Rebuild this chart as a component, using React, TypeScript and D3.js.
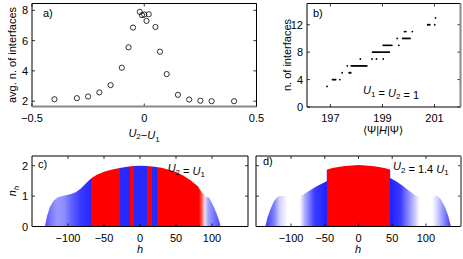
import * as d3 from "d3";

// a) average number of interfaces vs U2-U1
const aDiff = [-0.4, -0.3, -0.25, -0.2, -0.15, -0.1, -0.07, -0.05, -0.02, -0.01, 0.0, 0.01, 0.02, 0.05, 0.07, 0.1, 0.15, 0.2, 0.25, 0.3, 0.4];
const aCount = [2.13, 2.2, 2.31, 2.58, 3.06, 4.21, 5.56, 6.86, 7.9, 7.68, 7.72, 7.3, 7.74, 6.9, 5.27, 3.79, 2.42, 2.11, 2.03, 2.0, 2.0];

// b) number of interfaces vs energy, one row per count
const bLevels = [3, 4, 5, 6, 7, 8, 9, 10, 11, 12, 13];
const bEnergies = [
  [196.87],
  [197.08, 197.11, 197.14, 197.17, 197.2, 197.36],
  [197.45, 197.72, 197.75, 197.78],
  [197.65, 197.8, 197.83, 197.86, 197.89, 197.92, 197.95, 197.98, 198.01, 198.04, 198.07, 198.1, 198.13, 198.16, 198.19, 198.22, 198.25, 198.28, 198.31, 198.34, 198.37, 198.4],
  [198.15, 198.6, 198.77, 199.03],
  [198.62, 198.66, 198.7, 198.74, 198.78, 198.82, 198.86, 198.9, 198.94, 198.98, 199.02, 199.06, 199.1, 199.14, 199.18, 199.22, 199.26],
  [199.03, 199.07, 199.11, 199.15, 199.19, 199.23, 199.27, 199.31, 199.36, 199.63],
  [199.57, 199.78, 199.82, 199.86, 199.9, 199.94, 199.98, 200.02, 200.06],
  [199.85, 199.9, 200.15],
  [200.74, 200.78, 200.82, 201.01],
  [201.04],
];

// c) density profile, U2 = U1
const cH = [-132, -129, -125, -120, -114, -105, -97, -90, -82, -75, -68, -60, -50, -40, -30, -20, -10, 0, 10, 20, 30, 40, 50, 60, 70, 80, 86, 90, 91, 96, 101, 106, 110, 112];
const cN = [0, 0.35, 0.65, 0.85, 0.96, 1.02, 1.06, 1.12, 1.25, 1.42, 1.58, 1.7, 1.8, 1.87, 1.92, 1.96, 1.99, 2.0, 1.99, 1.97, 1.93, 1.87, 1.79, 1.68, 1.52, 1.33, 1.12, 1.03, 0.99, 0.95, 0.72, 0.45, 0.18, 0];
const cStopH = [-132, -124, -115, -105, -95, -82, -68, -68, -27.5, -27.5, -14.5, -14.5, -8, -8, 9.6, 9.6, 16, 16, 24, 24, 82, 86, 89.5, 90, 95, 105, 112];
const cStopColor = ["#4a4aff", "#7a7aff", "#9898ff", "#8c8cff", "#6060ff", "#3838ff", "#2828ff", "#ff0000", "#ff0000", "#2828ff", "#2828ff", "#ff0000", "#ff0000", "#2828ff", "#2828ff", "#ff0000", "#ff0000", "#2828ff", "#2828ff", "#ff0000", "#ff0000", "#ff6060", "#ffd0d0", "#e0e0ff", "#a0a0ff", "#6a6aff", "#4a4aff"];

// d) density profile, U2 = 1.4 U1
const dH = [-138, -135, -130, -125, -120, -117, -90, -84, -80, -70, -60, -50, -47, -47, -40, -30, -20, 0, 20, 30, 40, 47, 47, 55, 65, 75, 84, 88, 117, 122, 128, 133, 137];
const dN = [0, 0.3, 0.6, 0.85, 0.97, 1.0, 1.0, 1.02, 1.08, 1.22, 1.35, 1.46, 1.5, 1.87, 1.92, 1.96, 1.99, 2.02, 1.99, 1.96, 1.92, 1.87, 1.6, 1.5, 1.35, 1.18, 1.03, 1.0, 1.0, 0.9, 0.65, 0.35, 0];
const dStopH = [-138, -125, -117, -105, -87, -80, -65, -47, -47, 47, 47, 62, 80, 91, 109, 117, 128, 137];
const dStopColor = ["#3a3aff", "#8080ff", "#d0d0ff", "#ffffff", "#ffffff", "#b0b0ff", "#3a3aff", "#2020ff", "#ff0000", "#ff0000", "#2020ff", "#3a3aff", "#b0b0ff", "#ffffff", "#ffffff", "#d0d0ff", "#8080ff", "#3a3aff"];

const FONT = "'Liberation Sans', Arial, Helvetica, sans-serif";
const fmt = d3.format("");

type Lin = d3.ScaleLinear<number, number>;

function Frame({ x, y, xTicks, yTicks, yLabels = true, grayBottom = false, grayRight = false }: { x: Lin; y: Lin; xTicks: number[]; yTicks: number[]; yLabels?: boolean; grayBottom?: boolean; grayRight?: boolean }) {
  const [x0, x1] = x.range();
  const [yb, yt] = y.range();
  const tl = 3;
  return (
    <g>
      {xTicks.map((t) => (
        <g key={"x" + t}>
          <line x1={x(t)} x2={x(t)} y1={yb} y2={yb - tl} stroke="#000" strokeWidth={0.8} />
          <line x1={x(t)} x2={x(t)} y1={yt} y2={yt + tl} stroke="#000" strokeWidth={0.8} />
          <text x={x(t)} y={yb + 15} fontSize={11} textAnchor="middle">{fmt(t)}</text>
        </g>
      ))}
      {yTicks.map((t) => (
        <g key={"y" + t}>
          <line x1={x0} x2={x0 + tl} y1={y(t)} y2={y(t)} stroke="#000" strokeWidth={0.8} />
          <line x1={x1} x2={x1 - tl} y1={y(t)} y2={y(t)} stroke="#000" strokeWidth={0.8} />
          {yLabels && <text x={x0 - 4} y={y(t) + 4} fontSize={11} textAnchor="end">{fmt(t)}</text>}
        </g>
      ))}
      <line x1={x0} x2={x1} y1={yt} y2={yt} stroke="#000" strokeWidth={1} />
      <line x1={x0} x2={x0} y1={yt} y2={yb} stroke="#000" strokeWidth={1} />
      <line x1={x0} x2={x1} y1={yb} y2={yb} stroke={grayBottom ? "#888" : "#000"} strokeWidth={grayBottom ? 2 : 1} />
      <line x1={x1} x2={x1} y1={yt} y2={yb} stroke={grayRight ? "#888" : "#000"} strokeWidth={grayRight ? 2 : 1} />
    </g>
  );
}

function Sub({ base, sub }: { base: string; sub: string }) {
  return (
    <>
      <tspan fontStyle="italic">{base}</tspan>
      <tspan fontSize={8} dy={2.5}>{sub}</tspan>
      <tspan dy={-2.5}></tspan>
    </>
  );
}

function Profile({ id, x, y, hs, ns, stopH, stopColor }: { id: string; x: Lin; y: Lin; hs: number[]; ns: number[]; stopH: number[]; stopColor: string[] }) {
  const [x0, x1] = x.range();
  const area = d3.area<number>().x((h) => x(h)).y0(y(0)).y1((_, i) => y(ns[i]));
  return (
    <g>
      <defs>
        <linearGradient id={id} gradientUnits="userSpaceOnUse" x1={x0} x2={x1} y1={0} y2={0}>
          {stopH.map((h, i) => (
            <stop key={i} offset={(x(h) - x0) / (x1 - x0)} stopColor={stopColor[i]} />
          ))}
        </linearGradient>
      </defs>
      <path d={area(hs) ?? ""} fill={`url(#${id})`} />
    </g>
  );
}

function PanelA() {
  const x = d3.scaleLinear().domain([-0.5, 0.5]).range([32, 256.5]);
  const y = d3.scaleLinear().domain([1.65, 8.45]).range([106.5, 3.5]);
  return (
    <g>
      {aDiff.map((d, i) => (
        <circle key={i} cx={x(d)} cy={y(aCount[i])} r={2.6} fill="none" stroke="#000" strokeWidth={0.8} />
      ))}
      <Frame x={x} y={y} xTicks={[-0.5, 0, 0.5]} yTicks={[2, 4, 6, 8]} grayBottom />
      <text x={43} y={17} fontSize={11}>a)</text>
      <text transform="translate(16,55) rotate(-90)" fontSize={11} textAnchor="middle">avg. n. of interfaces</text>
      <text x={144} y={136.5} fontSize={11} textAnchor="middle">
        <Sub base="U" sub="2" />
        <tspan>−</tspan>
        <Sub base="U" sub="1" />
      </text>
    </g>
  );
}

function PanelB() {
  const x = d3.scaleLinear().domain([196.1, 202.0]).range([307, 460.5]);
  const y = d3.scaleLinear().domain([0, 15.1]).range([107, 3.5]);
  return (
    <g>
      {bLevels.map((lv, i) =>
        bEnergies[i].map((e, j) => <circle key={i + "-" + j} cx={x(e)} cy={y(lv)} r={0.9} fill="#000" />)
      )}
      <Frame x={x} y={y} xTicks={[197, 199, 201]} yTicks={[0, 4, 8, 12]} grayRight />
      <text x={313} y={17} fontSize={11}>b)</text>
      <text transform="translate(291,55) rotate(-90)" fontSize={11} textAnchor="middle">n. of interfaces</text>
      <text x={363} y={94} fontSize={11}>
        <Sub base="U" sub="1" />
        <tspan> = </tspan>
        <Sub base="U" sub="2" />
        <tspan> = 1</tspan>
      </text>
      <text x={383} y={134} fontSize={11} textAnchor="middle">
        ⟨Ψ|<tspan fontStyle="italic">H</tspan>|Ψ⟩
      </text>
    </g>
  );
}

function PanelC() {
  const x = d3.scaleLinear().domain([-150, 150]).range([32, 248]);
  const y = d3.scaleLinear().domain([0, 2.32]).range([226.5, 156]);
  return (
    <g>
      <Profile id="gc" x={x} y={y} hs={cH} ns={cN} stopH={cStopH} stopColor={cStopColor} />
      <Frame x={x} y={y} xTicks={[-100, -50, 0, 50, 100]} yTicks={[0, 1, 2]} />
      <text x={38} y={168} fontSize={11}>c)</text>
      <text transform="translate(16,191) rotate(-90)" fontSize={11} textAnchor="middle">
        <tspan fontStyle="italic">n</tspan>
        <tspan fontSize={8} dy={2.5} fontStyle="italic">h</tspan>
      </text>
      <text x={205} y={172} fontSize={11} textAnchor="end">
        <Sub base="U" sub="2" />
        <tspan> = </tspan>
        <Sub base="U" sub="1" />
      </text>
      <text x={140} y={253} fontSize={11} textAnchor="middle" fontStyle="italic">h</text>
    </g>
  );
}

function PanelD() {
  const x = d3.scaleLinear().domain([-152, 152]).range([256, 461]);
  const y = d3.scaleLinear().domain([0, 2.32]).range([226.5, 156]);
  return (
    <g>
      <Profile id="gd" x={x} y={y} hs={dH} ns={dN} stopH={dStopH} stopColor={dStopColor} />
      <Frame x={x} y={y} xTicks={[-100, -50, 0, 50, 100]} yTicks={[0, 1, 2]} yLabels={false} grayRight />
      <text x={263} y={165} fontSize={11}>d)</text>
      <text x={393} y={170} fontSize={11}>
        <Sub base="U" sub="2" />
        <tspan> = 1.4 </tspan>
        <Sub base="U" sub="1" />
      </text>
      <text x={358} y={253} fontSize={11} textAnchor="middle" fontStyle="italic">h</text>
    </g>
  );
}

export default function App() {
  return (
    <svg width={463} height={259} style={{ position: "absolute", left: 0, top: 0, background: "#fff" }} fontFamily={FONT}>
      <PanelA />
      <PanelB />
      <PanelC />
      <PanelD />
    </svg>
  );
}
